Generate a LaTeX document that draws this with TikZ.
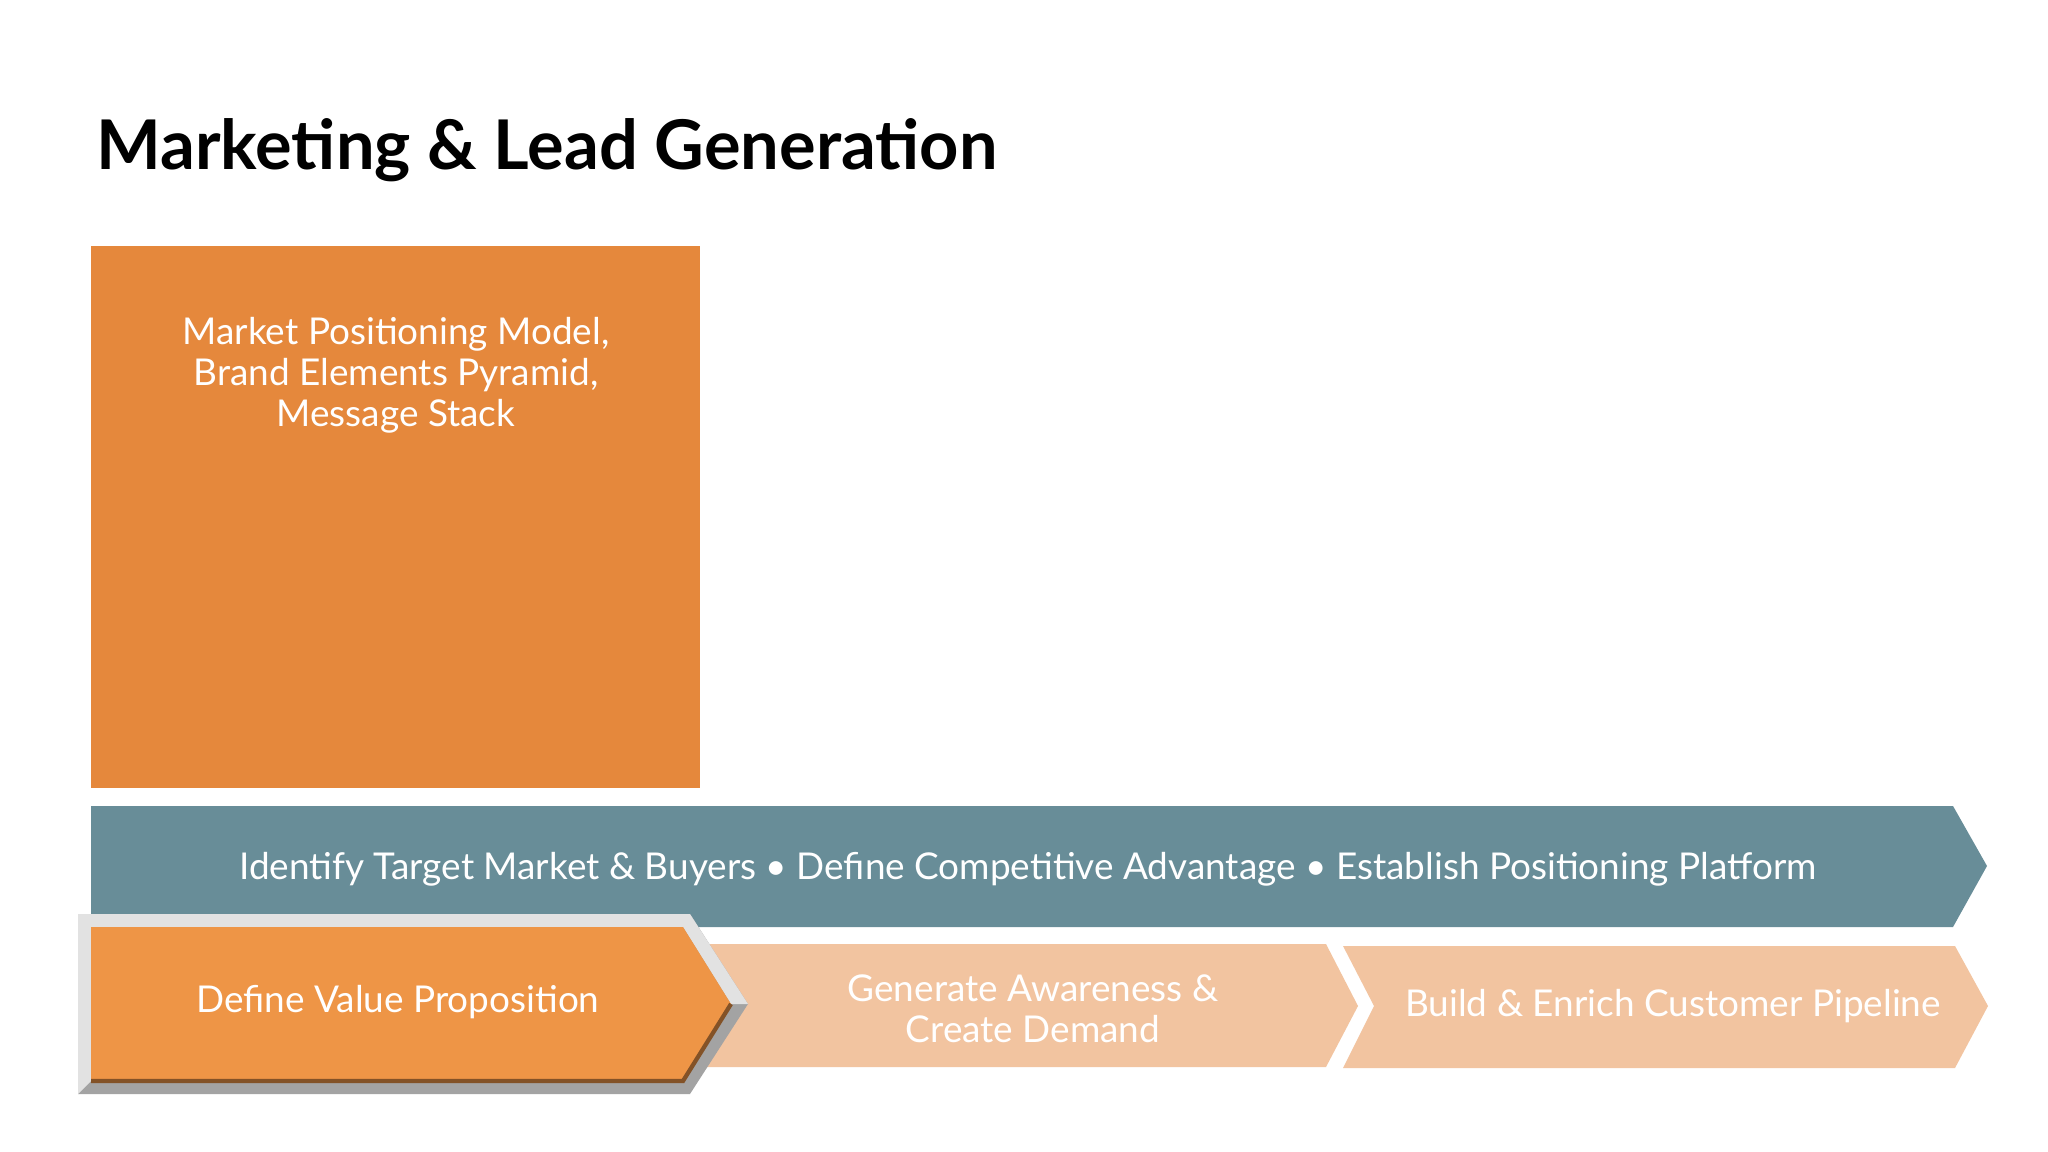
\documentclass[tikz,border=0pt]{standalone}
\usepackage{fontspec}
\setmainfont{Lato}
\begin{document}
\begin{tikzpicture}[x=0.01cm,y=-0.01cm,
  lbl/.style={text=white,align=center,font=\fontsize{10.5}{11.6}\selectfont},
  ttl/.style={anchor=west,font=\fontsize{19.5}{22}\selectfont\bfseries}]
\definecolor{boxor}{HTML}{E5883C}
\definecolor{teal}{HTML}{688D98}
\definecolor{chor}{HTML}{EE9546}
\definecolor{peach}{HTML}{F2C4A0}
\definecolor{bevl}{HTML}{E2E2E2}
\definecolor{bevd}{HTML}{A3A3A3}
\useasboundingbox (0,0) rectangle (2048,1152);
\fill[white] (0,0) rectangle (2048,1152);
\node[ttl] (title) at (84,150) {Marketing \& Lead Generation};
% orange box
\fill[boxor] (91,246) rectangle (700,788);
\node[lbl,anchor=north] (boxtxt) at (396,305) {Market Positioning Model,\\Brand Elements Pyramid,\\Message Stack};
% teal arrow
\fill[teal] (91,806) -- (1953,806) -- (1987,866) -- (1953,927) -- (91,927) -- cycle;
\node[lbl] (teal) at (1028,869) {Identify Target Market \& Buyers \textbullet{} Define Competitive Advantage \textbullet{} Establish Positioning Platform};
% chevron 3
\fill[peach] (1343,946) -- (1955,946) -- (1988,1006) -- (1955,1068) -- (1343,1068) -- (1374,1006) -- cycle;
\node[lbl] (c3) at (1673,1006) {Build \& Enrich Customer Pipeline};
% chevron 2
\fill[peach] (690,944) -- (1326,944) -- (1358,1006) -- (1326,1067) -- (690,1067) -- cycle;
\node[lbl] (c2) at (1033,1009) {Generate Awareness \&\\Create Demand};
% chevron 1 bevel
\fill[bevd] (78,914) -- (690,914) -- (748,1004) -- (690,1094) -- (78,1094) -- cycle;
\fill[bevl] (78,914) -- (690,914) -- (748,1004) -- (731,1004) -- (683,927) -- (91,927) -- (91,1081) -- (78,1094) -- cycle;
\fill[chor] (91,927) -- (683,927) -- (731,1004) -- (683,1081) -- (91,1081) -- cycle;
\draw[black!45!chor,line width=1.2] (91,1081) -- (683,1081) -- (731,1004);
\node[lbl] (c1) at (398,1002) {Define Value Proposition};
\end{tikzpicture}
\end{document}
